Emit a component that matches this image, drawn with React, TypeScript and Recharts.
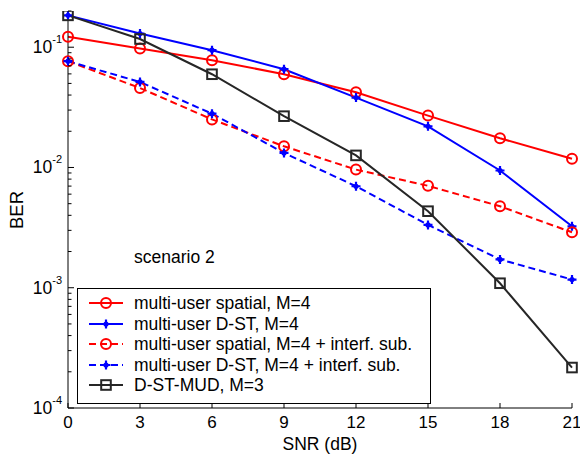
import { LineChart, Line, XAxis, YAxis, Legend } from "recharts";

// SNR points (dB)
const snr = [0, 3, 6, 9, 12, 15, 18, 21];

// BER per scheme
const spatial = [0.122, 0.0975, 0.078, 0.0596, 0.0422, 0.027, 0.0175, 0.0118];
const dst = [0.184, 0.13, 0.0944, 0.0656, 0.0381, 0.022, 0.00944, 0.00324];
const spatialSub = [0.0765, 0.0458, 0.0251, 0.015, 0.0096, 0.00704, 0.00476, 0.00289];
const dstSub = [0.0765, 0.0514, 0.028, 0.0132, 0.00698, 0.00333, 0.00172, 0.00117];
const mud = [0.184, 0.117, 0.0596, 0.0267, 0.0126, 0.00433, 0.00109, 0.000217];

const seriesNames = [
  "multi-user spatial, M=4",
  "multi-user D-ST, M=4",
  "multi-user spatial, M=4 + interf. sub.",
  "multi-user D-ST, M=4 + interf. sub.",
  "D-ST-MUD, M=3",
];

const xTicks = [0, 3, 6, 9, 12, 15, 18, 21];
const decadeExponents = [-4, -3, -2, -1];
const yDomain = [1e-4, 0.2];

const yTicks: number[] = [];
decadeExponents.forEach((e) => {
  for (let k = 1; k <= 9; k++) {
    const v = k * Math.pow(10, e);
    if (v <= yDomain[1] + 1e-12) yTicks.push(v);
  }
});

const data = snr.map((x, i) => ({
  snr: x,
  spatial: spatial[i],
  dst: dst[i],
  spatialSub: spatialSub[i],
  dstSub: dstSub[i],
  mud: mud[i],
}));

const FONT = "'Liberation Sans', Arial, sans-serif";
const RED = "#ff0000";
const BLUE = "#0000ff";
const BLACK = "#262626";

type MarkerKind = "circle" | "star" | "square";

function Marker({ cx, cy, kind, color }: { cx: number; cy: number; kind: MarkerKind; color: string }) {
  if (kind === "circle") {
    return <circle cx={cx} cy={cy} r={5} fill="none" stroke={color} strokeWidth={2} />;
  }
  if (kind === "square") {
    return <rect x={cx - 4.8} y={cy - 4.8} width={9.6} height={9.6} fill="none" stroke={color} strokeWidth={2} />;
  }
  return (
    <g>
      <path d={`M${cx - 4.5},${cy}H${cx + 4.5}M${cx},${cy - 4.5}V${cy + 4.5}`} stroke={color} strokeWidth={2.2} />
      <circle cx={cx} cy={cy} r={2.6} fill={color} />
    </g>
  );
}

const seriesStyle = [
  { key: "spatial", color: RED, kind: "circle" as MarkerKind, dash: undefined },
  { key: "dst", color: BLUE, kind: "star" as MarkerKind, dash: undefined },
  { key: "spatialSub", color: RED, kind: "circle" as MarkerKind, dash: "7 4" },
  { key: "dstSub", color: BLUE, kind: "star" as MarkerKind, dash: "7 4" },
  { key: "mud", color: BLACK, kind: "square" as MarkerKind, dash: undefined },
];

const isDecade = (v: number) => Math.abs(Math.log10(v) - Math.round(Math.log10(v))) < 1e-9;

function BottomTick({ x, y, payload }: any) {
  return (
    <g>
      <line x1={x} y1={y} x2={x} y2={y - 5} stroke="#000" />
      <text x={x} y={y + 20} textAnchor="middle" fontSize={17} fontFamily={FONT} fill="#000">
        {payload.value}
      </text>
    </g>
  );
}

function TopTick({ x, y }: any) {
  return <line x1={x} y1={y} x2={x} y2={y + 5} stroke="#000" />;
}

function LeftTick({ x, y, payload }: any) {
  const major = isDecade(payload.value);
  const len = major ? 6 : 3.5;
  return (
    <g>
      <line x1={x} y1={y} x2={x + len} y2={y} stroke="#000" />
      {major && (
        <text x={x - 6} y={y} textAnchor="end" dominantBaseline="central" fontSize={17.5} fontFamily={FONT} fill="#000">
          <tspan>10</tspan>
          <tspan dy={-8} fontSize={11}>{Math.round(Math.log10(payload.value))}</tspan>
        </text>
      )}
    </g>
  );
}

function RightTick({ x, y, payload }: any) {
  const len = isDecade(payload.value) ? 6 : 3.5;
  return <line x1={x} y1={y} x2={x - len} y2={y} stroke="#000" />;
}

function LegendBox() {
  return (
    <div
      style={{
        width: 352,
        height: 110,
        border: "1px solid #000",
        background: "#fff",
        paddingTop: 4,
        boxSizing: "content-box",
        fontFamily: FONT,
        fontSize: 17.5,
      }}
    >
      {seriesStyle.map((s, i) => (
        <div key={s.key} style={{ display: "flex", alignItems: "center", height: 20.5 }}>
          <svg width={56} height={20} style={{ flex: "none" }}>
            <line x1={11} y1={10} x2={45} y2={10} stroke={s.color} strokeWidth={2} strokeDasharray={s.dash} />
            <Marker cx={28} cy={10} kind={s.kind} color={s.color} />
          </svg>
          <span style={{ whiteSpace: "nowrap", lineHeight: "20px" }}>{seriesNames[i]}</span>
        </div>
      ))}
    </div>
  );
}

export default function App() {
  return (
    <div style={{ position: "absolute", left: 0, top: 0, width: 580, height: 457, background: "#fff" }}>
      <LineChart width={580} height={457} data={data} margin={{ top: 11, right: 8, bottom: 0, left: 8 }}>
        <XAxis
          dataKey="snr"
          type="number"
          domain={[0, 21]}
          ticks={xTicks}
          height={49}
          tickSize={0}
          tickMargin={0}
          tick={<BottomTick />}
          axisLine={{ stroke: "#000" }}
          tickLine={false}
        />
        <XAxis
          xAxisId="top"
          dataKey="snr"
          type="number"
          orientation="top"
          domain={[0, 21]}
          ticks={xTicks}
          height={0}
          tickSize={0}
          tickMargin={0}
          tick={<TopTick />}
          axisLine={{ stroke: "#000" }}
          tickLine={false}
        />
        <YAxis
          type="number"
          scale="log"
          domain={yDomain}
          allowDataOverflow
          ticks={yTicks}
          interval={0}
          width={60}
          tickSize={0}
          tickMargin={0}
          tick={<LeftTick />}
          axisLine={{ stroke: "#000" }}
          tickLine={false}
        />
        <YAxis
          yAxisId="right"
          orientation="right"
          type="number"
          scale="log"
          domain={yDomain}
          allowDataOverflow
          ticks={yTicks}
          interval={0}
          width={0}
          tickSize={0}
          tickMargin={0}
          tick={<RightTick />}
          axisLine={{ stroke: "#000" }}
          tickLine={false}
        />
        {seriesStyle.map((s) => (
          <Line
            key={s.key}
            dataKey={s.key}
            type="linear"
            stroke={s.color}
            strokeWidth={2}
            strokeDasharray={s.dash}
            isAnimationActive={false}
            activeDot={false}
            dot={(p: any) => <Marker key={`${s.key}-${p.index}`} cx={p.cx} cy={p.cy} kind={s.kind} color={s.color} />}
          />
        ))}
        <Legend
          content={<LegendBox />}
          layout="horizontal"
          verticalAlign="middle"
          align="center"
          wrapperStyle={{ position: "absolute", left: 77, top: 288, width: 354 }}
        />
        <text x={134} y={263} fontSize={17.5} fontFamily={FONT} fill="#000">
          scenario 2
        </text>
        <text x={320} y={450} textAnchor="middle" fontSize={17.5} fontFamily={FONT} fill="#000">
          SNR (dB)
        </text>
        <text
          x={16.7}
          y={210}
          textAnchor="middle"
          dominantBaseline="central"
          transform="rotate(-90 16.7 210)"
          fontSize={18.5}
          fontFamily={FONT}
          fill="#000"
        >
          BER
        </text>
      </LineChart>
    </div>
  );
}
